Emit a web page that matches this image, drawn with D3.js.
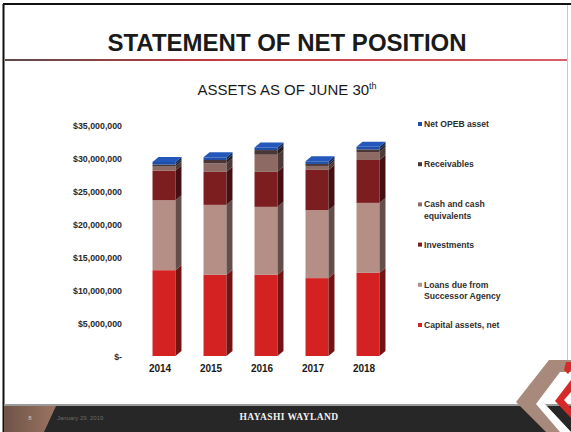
<!DOCTYPE html>
<html>
<head>
<meta charset="utf-8">
<script src="https://cdn.jsdelivr.net/npm/d3@7/dist/d3.min.js"></script>
<style>
  html, body { margin: 0; padding: 0; background: #fff; }
  svg { display: block; }
</style>
</head>
<body>
<svg id="chart" width="571" height="432" font-family="Liberation Sans, Arial, sans-serif"></svg>
<script>
// Fiscal years (as of June 30)
const years = ["2014", "2015", "2016", "2017", "2018"];

// Asset components, stacked bottom to top (dollars)
const capitalAssets = [13.0e6, 12.3e6, 12.3e6, 11.8e6, 12.6e6];
const loansDue      = [10.6e6, 10.6e6, 10.3e6, 10.3e6, 10.6e6];
const investments   = [4.5e6, 5.0e6, 5.3e6, 6.1e6, 6.5e6];
const cashEquiv     = [0.6e6, 1.3e6, 2.6e6, 0.6e6, 1.2e6];
const receivables   = [0.3e6, 0.5e6, 0.7e6, 0.3e6, 0.4e6];
const netOpeb       = [0.4e6, 0.4e6, 0.4e6, 0.4e6, 0.4e6];

const seriesNames = ["Capital assets, net", "Loans due from Successor Agency", "Investments",
                     "Cash and cash equivalents", "Receivables", "Net OPEB asset"];
const seriesKeys = ["capital", "loans", "invest", "cash", "recv", "opeb"];
const seriesColors = ["#d42222", "#b58f86", "#7c1d1f", "#8d6a63", "#4a3636", "#1f4ea8"];

const tickValues = [0, 5e6, 10e6, 15e6, 20e6, 25e6, 30e6, 35e6];
const tickLabels = ["$-", "$5,000,000", "$10,000,000", "$15,000,000", "$20,000,000",
                    "$25,000,000", "$30,000,000", "$35,000,000"];

const rows = years.map((yr, i) => ({
  year: yr,
  capital: capitalAssets[i], loans: loansDue[i], invest: investments[i],
  cash: cashEquiv[i], recv: receivables[i], opeb: netOpeb[i]
}));

const svg = d3.select("#chart");
const W = 571, H = 432;
const defs = svg.append("defs");

// ---- slide frame ----
svg.append("rect").attr("x", 0).attr("y", 0).attr("width", W).attr("height", H).attr("fill", "#fff");
svg.append("line").attr("x1", 3).attr("x2", 571).attr("y1", 4).attr("y2", 4)
  .attr("stroke", "#111").attr("stroke-width", 2);
svg.append("line").attr("x1", 3.5).attr("x2", 3.5).attr("y1", 4).attr("y2", 432)
  .attr("stroke", "#111").attr("stroke-width", 2);
svg.append("line").attr("x1", 567.5).attr("x2", 567.5).attr("y1", 5).attr("y2", 360)
  .attr("stroke", "#c8c8c8").attr("stroke-width", 1);

// ---- title ----
svg.append("text").attr("x", 287).attr("y", 51).attr("text-anchor", "middle")
  .attr("font-size", 24).attr("font-weight", "bold").attr("fill", "#1a1a1a")
  .text("STATEMENT OF NET POSITION");

const rule = defs.append("linearGradient").attr("id", "rule")
  .attr("x1", "0%").attr("x2", "100%");
rule.append("stop").attr("offset", "0%").attr("stop-color", "#5a4a4a");
rule.append("stop").attr("offset", "35%").attr("stop-color", "#c0393f");
rule.append("stop").attr("offset", "100%").attr("stop-color", "#d96068");
svg.append("rect").attr("x", 5).attr("y", 59).attr("width", 562).attr("height", 2)
  .attr("fill", "url(#rule)");

// ---- subtitle ----
const sub = svg.append("text").attr("x", 287).attr("y", 95).attr("text-anchor", "middle")
  .attr("font-size", 15).attr("fill", "#1a1a1a");
sub.append("tspan").text("ASSETS AS OF JUNE 30");
sub.append("tspan").attr("font-size", 9).attr("dy", -6).text("th");

// ---- scales ----
const x = d3.scaleBand().domain(years).range([138.5, 393.5])
  .paddingInner(0.55).paddingOuter(0.275);
const y = d3.scaleLinear().domain([0, 35e6]).range([356, 125]);

const depthX = 6, depthY = 5;

// ---- axes ----
const yAxis = svg.append("g").attr("transform", "translate(122,1)")
  .call(d3.axisLeft(y).tickValues(tickValues).tickSize(0).tickPadding(0)
    .tickFormat((d, i) => tickLabels[i]));
yAxis.select(".domain").remove();
yAxis.selectAll("text").attr("font-family", "Liberation Sans, Arial, sans-serif")
  .attr("font-size", 8.8).attr("font-weight", "bold").attr("fill", "#2a2a2a");

const xAxis = svg.append("g").attr("transform", "translate(-4,362)")
  .call(d3.axisBottom(x).tickSize(0).tickPadding(3));
xAxis.select(".domain").remove();
xAxis.selectAll("text").attr("font-family", "Liberation Sans, Arial, sans-serif")
  .attr("font-size", 10).attr("font-weight", "bold").attr("fill", "#1a1a1a");

// ---- 3D stacked columns ----
const stacked = d3.stack().keys(seriesKeys)(rows);
const bars = svg.append("g");
years.forEach((yr, i) => {
  const x0 = x(yr), x1 = x0 + x.bandwidth();
  stacked.forEach((layer, k) => {
    const d = layer[i];
    const yb = y(d[0]), yt = y(d[1]);
    const c = seriesColors[k];
    const g = bars.append("g");
    g.append("rect").attr("x", x0).attr("y", yt).attr("width", x1 - x0).attr("height", yb - yt)
      .attr("fill", c);
    g.append("polygon")
      .attr("points", [[x1, yt], [x1 + depthX, yt - depthY], [x1 + depthX, yb - depthY], [x1, yb]].join(" "))
      .attr("fill", d3.color(c).darker(1.7));
    if (k === stacked.length - 1) {
      g.append("polygon")
        .attr("points", [[x0, yt], [x0 + depthX, yt - depthY], [x1 + depthX, yt - depthY], [x1, yt]].join(" "))
        .attr("fill", d3.color(c).brighter(0.3));
    }
  });
});

// ---- legend (top of stack first) ----
const legend = svg.append("g").attr("transform", "translate(418,127)");
const legendOrder = d3.range(seriesNames.length).reverse();
legendOrder.forEach((k, j) => {
  const gy = j * 40.2;
  legend.append("rect").attr("x", 0).attr("y", gy - 5).attr("width", 4).attr("height", 4)
    .attr("fill", seriesColors[k]);
  const t = legend.append("text").attr("x", 6).attr("y", gy)
    .attr("font-size", 8.6).attr("font-weight", "bold").attr("fill", "#2e2e2e");
  const name = seriesNames[k];
  const lines = name === "Cash and cash equivalents" ? ["Cash and cash", "equivalents"]
    : name === "Loans due from Successor Agency" ? ["Loans due from", "Successor Agency"] : [name];
  lines.forEach((ln, li) => {
    t.append("tspan").attr("x", 6).attr("dy", li === 0 ? 0 : 11.5).text(ln);
  });
});

// ---- footer band ----
const footer = svg.append("g");
footer.append("rect").attr("x", 4).attr("y", 404).attr("width", 567).attr("height", 2).attr("fill", "#9a9a9a");
footer.append("rect").attr("x", 4).attr("y", 406).attr("width", 567).attr("height", 26).attr("fill", "#272727");
const fg = defs.append("linearGradient").attr("id", "tab")
  .attr("x1", "0%").attr("x2", "100%");
fg.append("stop").attr("offset", "0%").attr("stop-color", "#6e5446");
fg.append("stop").attr("offset", "100%").attr("stop-color", "#9a7462");
footer.append("polygon").attr("points", "4,406 56,406 44,432 4,432").attr("fill", "url(#tab)");
footer.append("text").attr("x", 30).attr("y", 420).attr("font-size", 6).attr("fill", "#d8c8c0")
  .attr("text-anchor", "middle").text("8");
footer.append("text").attr("x", 57).attr("y", 420).attr("font-size", 6).attr("fill", "#6a6a6a")
  .text("January 29, 2019");
footer.append("text").attr("x", 289).attr("y", 420).attr("text-anchor", "middle")
  .attr("font-family", "Liberation Serif, DejaVu Serif, serif").attr("font-size", 9.5)
  .attr("font-weight", "bold").attr("letter-spacing", 0.4).attr("fill", "#f2f2f2")
  .text("HAYASHI  WAYLAND");

// ---- corner chevrons ----
const corner = svg.append("g");
corner.append("polygon").attr("points", "549,360 571,360 571,372 543,402 571,432 546,432 516,402")
  .attr("fill", "#a88a7c");
corner.append("polygon").attr("points", "560,372 571,372 571,382 562,392 543,402 571,432 560,432 536,404")
  .attr("fill", "#ffffff");
corner.append("polygon").attr("points", "571,380 571,392 564,400 571,408 571,418 555,401")
  .attr("fill", "#d42a2a");
corner.append("polygon").attr("points", "566,362 571,362 571,370 568,374 564,370")
  .attr("fill", "#d42a2a");
</script>
</body>
</html>
